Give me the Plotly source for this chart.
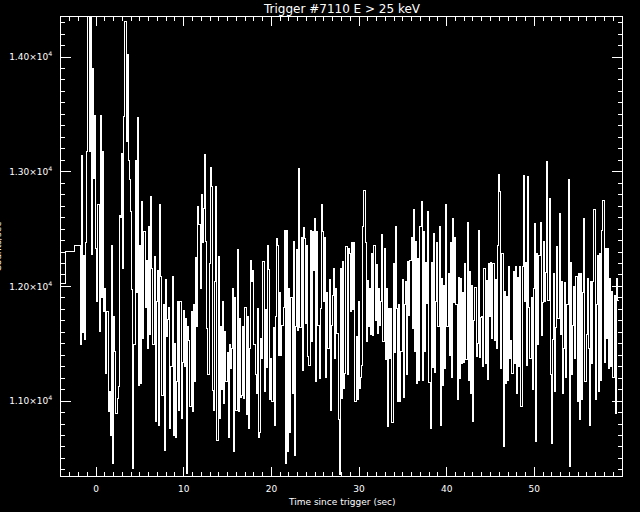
import numpy as np
import plotly.graph_objects as go

# ---- data ----
title_text = "Trigger #7110 E > 25 keV"
x_title = "Time since trigger (sec)"
y_title = "Counts/sec"

# pre-trigger 1.024 s bins (bin start times, rates)
pre_t = [-4.48, -3.46, -2.44]
pre_counts = [12027, 12303, 12361]

# post-trigger fine-resolution rates
fine_t0 = -1.83
fine_dt = 0.128
fine_counts = [
    11490, 13140, 11600, 12270, 11540, 12380, 13180, 14380,
    13180, 14380, 12280, 13900, 12940, 13490, 12330, 11870,
    12710, 11610, 13490, 11900, 13180, 11780, 11980, 11240,
    11780, 10910, 11080, 10700, 12360, 10460, 11740, 11430,
    10890, 11020, 11130, 12620, 12600, 13160, 12160, 13480,
    14310, 13260, 14020, 13100, 12930, 12650, 11970, 10410,
    11490, 13100, 11950, 13470, 11140, 12360, 11150, 12740,
    11550, 12480, 11820, 12230, 11460, 12520, 11580, 12780,
    12160, 11490, 12260, 10820, 11870, 12140, 10790, 12710,
    12090, 11050, 11840, 10570, 12060, 11560, 11710, 11820,
    10760, 11300, 12090, 10700, 11500, 10680, 11170, 11870,
    10920, 11870, 10850, 11340, 11790, 11300, 11720, 10370,
    11650, 11530, 10950, 11780, 10910, 11840, 11170, 12250,
    11650, 12700, 12540, 11980, 12800, 12380, 12680, 13150,
    12390, 11630, 11230, 12200, 13040, 12870, 11090, 10920,
    12040, 12870, 10660, 12260, 10850, 11650, 11100, 11870,
    10980, 11610, 11170, 11420, 10680, 11490, 11280, 11460,
    11980, 10560, 11900, 10920, 12320, 10910, 11720, 11030,
    11050, 11650, 11020, 11820, 10880, 11740, 10760, 11460,
    12230, 12040, 12140, 11490, 11230, 11070, 11810, 10680,
    10730, 11550, 11370, 12220, 11080, 11800, 11290, 12360,
    12150, 11010, 11370, 11000, 11640, 10790, 11740, 12420,
    12360, 11400, 11950, 11400, 11660, 11820, 12490, 10460,
    12490, 10560, 11980, 10730, 11900, 11070, 12390, 10530,
    11650, 12320, 11620, 13030, 11640, 12430, 11270, 12510,
    12420, 11680, 12360, 11390, 11310, 12490, 11520, 12480,
    12140, 12590, 11170, 12480, 11660, 11200, 11810, 12710,
    12480, 11870, 12430, 11210, 11950, 11460, 12060, 10920,
    11660, 11920, 12160, 11370, 11980, 11590, 10840, 10360,
    12160, 11020, 12220, 11110, 11240, 12350, 11230, 12330,
    12290, 11780, 12380, 11800, 12380, 11000, 11560, 11010,
    11870, 11110, 11210, 11310, 12520, 12840, 12380, 11520,
    12050, 11650, 11980, 11580, 12290, 11570, 12360, 11700,
    12190, 11590, 11980, 11660, 11870, 12450, 11520, 12330,
    11360, 11980, 10780, 11810, 11370, 11810, 10810, 12200,
    11420, 12520, 11810, 11000, 11840, 11000, 11430, 12060,
    11030, 11840, 12040, 11230, 12220, 11750, 12230, 12430,
    11630, 12670, 11430, 12390, 11150, 12240, 11180, 12520,
    12740, 11180, 12480, 11430, 12210, 11850, 12650, 11160,
    10760, 12210, 11290, 12460, 11250, 11870, 12380, 11650,
    12520, 10790, 12070, 11140, 12010, 11280, 12710, 11650,
    12110, 11400, 12380, 11210, 12590, 11860, 12430, 11840,
    11010, 12080, 11200, 12070, 11330, 11950, 11340, 12200,
    11360, 12560, 11180, 12130, 11070, 12010, 10820, 11700,
    11990, 11390, 11500, 12490, 11380, 11730, 11740, 11300,
    12160, 11330, 12050, 11190, 12200, 11740, 12210, 11550,
    12200, 11530, 12060, 11460, 12360, 12980, 12830, 11280,
    12290, 10600, 11960, 11150, 11910, 11180, 12170, 11370,
    11530, 11240, 12130, 11330, 12170, 11070, 12080, 11300,
    12170, 10950, 12170, 12970, 11870, 12210, 11310, 12960,
    11820, 11370, 11900, 11100, 11980, 12550, 10650, 12290,
    11490, 12270, 12560, 11570, 11860, 12390, 11870, 12120,
    13090, 11880, 12770, 11230, 10630, 11540, 12110, 11080,
    11640, 12350, 11720, 12640, 11580, 12040, 11070, 11460,
    12030, 11210, 11840, 12930, 10430, 12210, 11230, 11660,
    12000, 11370, 12090, 11000, 12110, 10840, 12110, 11010,
    11950, 12590, 11170, 11580, 12070, 11460, 10790, 12040,
    11330, 12040, 12670, 11010, 11840, 12270, 11080, 12290,
    11180, 12490, 12750, 11340, 12330, 11550, 12330, 11280,
    12070, 11300, 11960, 11210, 11920, 10890, 12070, 11880,
]

x_ticks = [0, 10, 20, 30, 40, 50]
y_ticks = [11000, 12000, 13000, 14000]
y_tick_text = ["1.10×10<sup>4</sup>", "1.20×10<sup>4</sup>",
               "1.30×10<sup>4</sup>", "1.40×10<sup>4</sup>"]
x_range = [-4, 60]
y_range = [10347, 14349]

# ---- build step curve ----
t_fine = fine_t0 + fine_dt * np.arange(len(fine_counts))
xs = np.concatenate([pre_t, t_fine, [t_fine[-1] + fine_dt]])
ys = np.concatenate([pre_counts, fine_counts, [fine_counts[-1]]])

FONT = "DejaVu Sans"
fig = go.Figure()
fig.add_trace(go.Scatter(x=xs, y=ys, mode="lines",
                         line=dict(color="white", width=1, shape="hv"),
                         hoverinfo="skip", showlegend=False))

axis_common = dict(showline=True, linecolor="white", linewidth=1,
                   mirror="ticks", ticks="inside", tickcolor="white",
                   tickwidth=1, showgrid=False, zeroline=False,
                   automargin=False,
                   tickfont=dict(family=FONT, size=9, color="white"))

fig.update_layout(
    width=640, height=512,
    paper_bgcolor="black", plot_bgcolor="black",
    margin=dict(l=61, r=18, t=17, b=36),
    xaxis=dict(range=x_range, tickmode="array", tickvals=x_ticks,
               ticktext=[str(v) for v in x_ticks], ticklen=9,
               ticklabelstandoff=4,
               minor=dict(dtick=1, tick0=0, ticks="inside", ticklen=4,
                          tickcolor="white", showgrid=False),
               **axis_common),
    yaxis=dict(range=y_range, tickmode="array", tickvals=y_ticks,
               ticktext=y_tick_text, ticklen=10, ticklabelstandoff=6,
               minor=dict(dtick=100, tick0=0, ticks="inside", ticklen=4,
                          tickcolor="white", showgrid=False),
               **axis_common),
    annotations=[
        dict(text=title_text, xref="paper", yref="paper", x=0.5,
             y=1 + 8 / 459, xanchor="center", yanchor="middle",
             showarrow=False, font=dict(family=FONT, size=12, color="white")),
        dict(text=x_title, xref="paper", yref="paper", x=0.5,
             y=-26 / 459, xanchor="center", yanchor="middle",
             showarrow=False, font=dict(family=FONT, size=9, color="white")),
        dict(text=y_title, xref="paper", yref="paper", x=-64 / 561,
             y=0.5, xanchor="center", yanchor="middle", textangle=-90,
             showarrow=False, font=dict(family=FONT, size=9, color="white")),
    ],
)

fig.write_html(
    "out.html",
    config={"displayModeBar": False},
    post_script="document.body.style.margin='0';"
                "document.body.style.background='black';"
                "document.body.style.overflow='hidden';"
                "document.querySelectorAll('.scatterlayer path').forEach("
                "function(p){p.style.shapeRendering='crispEdges';});",
)
